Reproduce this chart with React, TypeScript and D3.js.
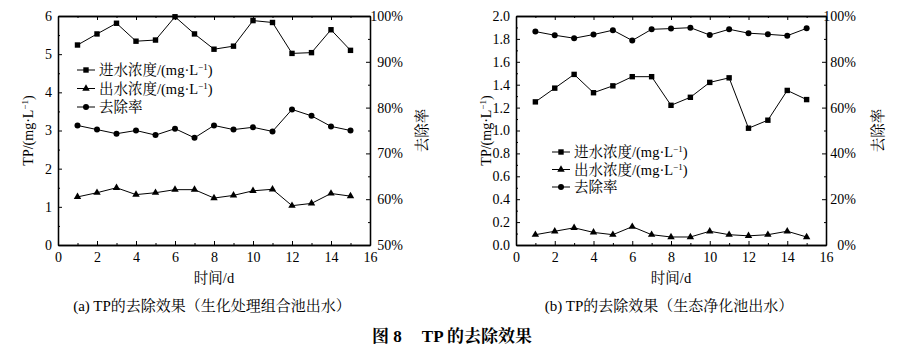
import { useEffect, useRef } from "react";
import * as d3 from "d3";

// day index shared by both panels
const days = [1, 2, 3, 4, 5, 6, 7, 8, 9, 10, 11, 12, 13, 14, 15];

// (a) biochemical combined tank effluent
const inflowA = [5.24, 5.53, 5.81, 5.34, 5.37, 5.98, 5.53, 5.13, 5.21, 5.88, 5.83, 5.02, 5.04, 5.64, 5.1];
const outflowA = [1.26, 1.37, 1.5, 1.32, 1.37, 1.45, 1.45, 1.23, 1.3, 1.42, 1.46, 1.03, 1.09, 1.35, 1.28];
const removalA = [76.1, 75.2, 74.3, 75.0, 74.0, 75.4, 73.4, 76.1, 75.2, 75.7, 74.8, 79.6, 78.2, 75.9, 75.0];

// (b) ecological purification tank effluent
const inflowB = [1.25, 1.37, 1.49, 1.33, 1.39, 1.47, 1.47, 1.22, 1.29, 1.42, 1.46, 1.02, 1.09, 1.35, 1.27];
const outflowB = [0.09, 0.12, 0.15, 0.11, 0.09, 0.16, 0.09, 0.07, 0.07, 0.12, 0.09, 0.08, 0.09, 0.12, 0.07];
const removalB = [93.2, 91.6, 90.3, 91.9, 93.8, 89.3, 94.2, 94.5, 94.9, 91.7, 94.2, 92.5, 92.0, 91.4, 94.6];

const xMajor = [0, 2, 4, 6, 8, 10, 12, 14, 16];
const xMinor = [1, 3, 5, 7, 9, 11, 13, 15];
const legendNames = ["进水浓度/(mg·L", "出水浓度/(mg·L", "去除率"];

const FONT = "'Liberation Serif', 'Times New Roman', 'Noto Serif CJK SC', 'Noto Sans CJK SC', serif";

type PanelProps = {
  left: number;
  right: number;
  top: number;
  bottom: number;
  yMax: number;
  yMajor: number[];
  yMinor: number[];
  yFormat: (d: number) => string;
  rDomain: [number, number];
  rMajor: number[];
  rMinor: number[];
  rLabelX: number;
  inflow: number[];
  outflow: number[];
  removal: number[];
  legend: { x: number; y: number; step: number };
  caption: string;
};

const Marker = ({ kind, x, y }: { kind: number; x: number; y: number }) => {
  if (kind === 0) return <rect x={x - 2.7} y={y - 2.7} width={5.4} height={5.4} fill="#000" />;
  if (kind === 1) {
    const tri = d3.symbol().type(d3.symbolTriangle).size(24)();
    return <path d={tri || ""} transform={`translate(${x},${y})`} fill="#000" />;
  }
  return <circle cx={x} cy={y} r={3} fill="#000" />;
};

const Panel = (p: PanelProps) => {
  const axesRef = useRef<SVGGElement>(null);
  const xScale = d3.scaleLinear().domain([0, 16]).range([p.left, p.right]);
  const yScale = d3.scaleLinear().domain([0, p.yMax]).range([p.bottom, p.top]);
  const rScale = d3.scaleLinear().domain(p.rDomain).range([p.bottom, p.top]);

  useEffect(() => {
    const g = d3.select(axesRef.current);
    g.selectAll("*").remove();
    const none = () => "";

    // bottom + top
    g.append("g")
      .attr("transform", `translate(0,${p.bottom})`)
      .call(d3.axisBottom(xScale).tickValues(xMinor).tickSize(-2).tickSizeOuter(0).tickFormat(none));
    g.append("g")
      .attr("transform", `translate(0,${p.bottom})`)
      .call(d3.axisBottom(xScale).tickValues(xMajor).tickSize(-4).tickSizeOuter(0).tickPadding(7).tickFormat(d3.format("d")));
    g.append("g")
      .attr("transform", `translate(0,${p.top})`)
      .call(d3.axisTop(xScale).tickValues(xMinor).tickSize(-2).tickSizeOuter(0).tickFormat(none));
    g.append("g")
      .attr("transform", `translate(0,${p.top})`)
      .call(d3.axisTop(xScale).tickValues(xMajor).tickSize(-4).tickSizeOuter(0).tickFormat(none));

    // left
    g.append("g")
      .attr("transform", `translate(${p.left},0)`)
      .call(d3.axisLeft(yScale).tickValues(p.yMinor).tickSize(-2).tickSizeOuter(0).tickFormat(none));
    g.append("g")
      .attr("transform", `translate(${p.left},0)`)
      .call(d3.axisLeft(yScale).tickValues(p.yMajor).tickSize(-4).tickSizeOuter(0).tickPadding(6).tickFormat(p.yFormat as any));

    // right (removal rate)
    g.append("g")
      .attr("transform", `translate(${p.right},0)`)
      .call(d3.axisRight(rScale).tickValues(p.rMinor).tickSize(-2).tickSizeOuter(0).tickFormat(none));
    const ra = g.append("g")
      .attr("transform", `translate(${p.right},0)`)
      .call(d3.axisRight(rScale).tickValues(p.rMajor).tickSize(-4).tickSizeOuter(0).tickFormat((d) => `${d}%`));
    ra.selectAll("text").attr("x", p.rLabelX).attr("text-anchor", "end");

    g.selectAll(".domain").attr("stroke", "#000").attr("stroke-width", 1.3);
    g.selectAll(".tick line").attr("stroke", "#000").attr("stroke-width", 1);
    g.selectAll("text").attr("font-family", FONT).attr("font-size", 14).attr("fill", "#000");
  }, [p]);

  const line = (vals: number[], scale: d3.ScaleLinear<number, number>) =>
    d3.line<number>().x((_, i) => xScale(days[i])).y((d) => scale(d))(vals) || "";

  const series = [
    { vals: p.inflow, scale: yScale },
    { vals: p.outflow, scale: yScale },
    { vals: p.removal, scale: rScale },
  ];
  const cx = (p.left + p.right) / 2;
  const cy = (p.top + p.bottom) / 2;

  return (
    <g>
      {series.map((s, k) => (
        <g key={k}>
          <path d={line(s.vals, s.scale)} fill="none" stroke="#000" strokeWidth={1} />
          {s.vals.map((v, i) => (
            <Marker key={i} kind={k} x={xScale(days[i])} y={s.scale(v)} />
          ))}
        </g>
      ))}
      <g ref={axesRef} />

      {/* legend */}
      {legendNames.map((name, k) => {
        const ly = p.legend.y + k * p.legend.step;
        return (
          <g key={name}>
            <line x1={p.legend.x} x2={p.legend.x + 18} y1={ly} y2={ly} stroke="#000" strokeWidth={1} />
            <Marker kind={k} x={p.legend.x + 9} y={ly} />
            <text x={p.legend.x + 22} y={ly} dy="0.36em" fontSize={14.5} fontFamily={FONT}>
              {name}
              {k < 2 && (
                <>
                  <tspan fontSize={9} dy={-5}>−1</tspan>
                  <tspan dy={5}>)</tspan>
                </>
              )}
            </text>
          </g>
        );
      })}

      {/* axis titles */}
      <text transform={`translate(${p.left - 30},${cy}) rotate(-90)`} textAnchor="middle" fontSize={14} fontFamily={FONT} dy="0.35em">
        TP/(mg·L<tspan fontSize={9} dy={-5}>−1</tspan><tspan dy={5}>)</tspan>
      </text>
      <text transform={`translate(${p.right + 52},${cy}) rotate(-90)`} textAnchor="middle" fontSize={14.5} fontFamily={FONT} dy="0.35em">
        去除率
      </text>
      <text x={cx} y={p.bottom + 38} textAnchor="middle" fontSize={14.5} fontFamily={FONT}>
        时间/d
      </text>
      <text x={cx - 2} y={p.bottom + 66} textAnchor="middle" fontSize={15} fontFamily={FONT}>
        {p.caption}
      </text>
    </g>
  );
}

export default function App() {
  return (
    <svg width={899} height={351} style={{ position: "absolute", left: 0, top: 0, background: "#fff" }}>
      <Panel
        left={58}
        right={370}
        top={16}
        bottom={245}
        yMax={6}
        yMajor={[0, 1, 2, 3, 4, 5, 6]}
        yMinor={[0.5, 1.5, 2.5, 3.5, 4.5, 5.5]}
        yFormat={d3.format("d")}
        rDomain={[50, 100]}
        rMajor={[50, 60, 70, 80, 90, 100]}
        rMinor={[55, 65, 75, 85, 95]}
        rLabelX={33}
        inflow={inflowA}
        outflow={outflowA}
        removal={removalA}
        legend={{ x: 77, y: 70, step: 18.5 }}
        caption="(a) TP的去除效果（生化处理组合池出水）"
      />
      <Panel
        left={516}
        right={826}
        top={16}
        bottom={245}
        yMax={2}
        yMajor={[0, 0.2, 0.4, 0.6, 0.8, 1.0, 1.2, 1.4, 1.6, 1.8, 2.0]}
        yMinor={[0.1, 0.3, 0.5, 0.7, 0.9, 1.1, 1.3, 1.5, 1.7, 1.9]}
        yFormat={d3.format(".1f")}
        rDomain={[0, 100]}
        rMajor={[0, 20, 40, 60, 80, 100]}
        rMinor={[10, 30, 50, 70, 90]}
        rLabelX={30}
        inflow={inflowB}
        outflow={outflowB}
        removal={removalB}
        legend={{ x: 552, y: 152, step: 17.5 }}
        caption="(b) TP的去除效果（生态净化池出水）"
      />
      <text x={452} y={342} textAnchor="middle" fontSize={17} fontWeight="bold" fontFamily={FONT}>
        图 8<tspan dx={20}>TP 的去除效果</tspan>
      </text>
    </svg>
  );
}
